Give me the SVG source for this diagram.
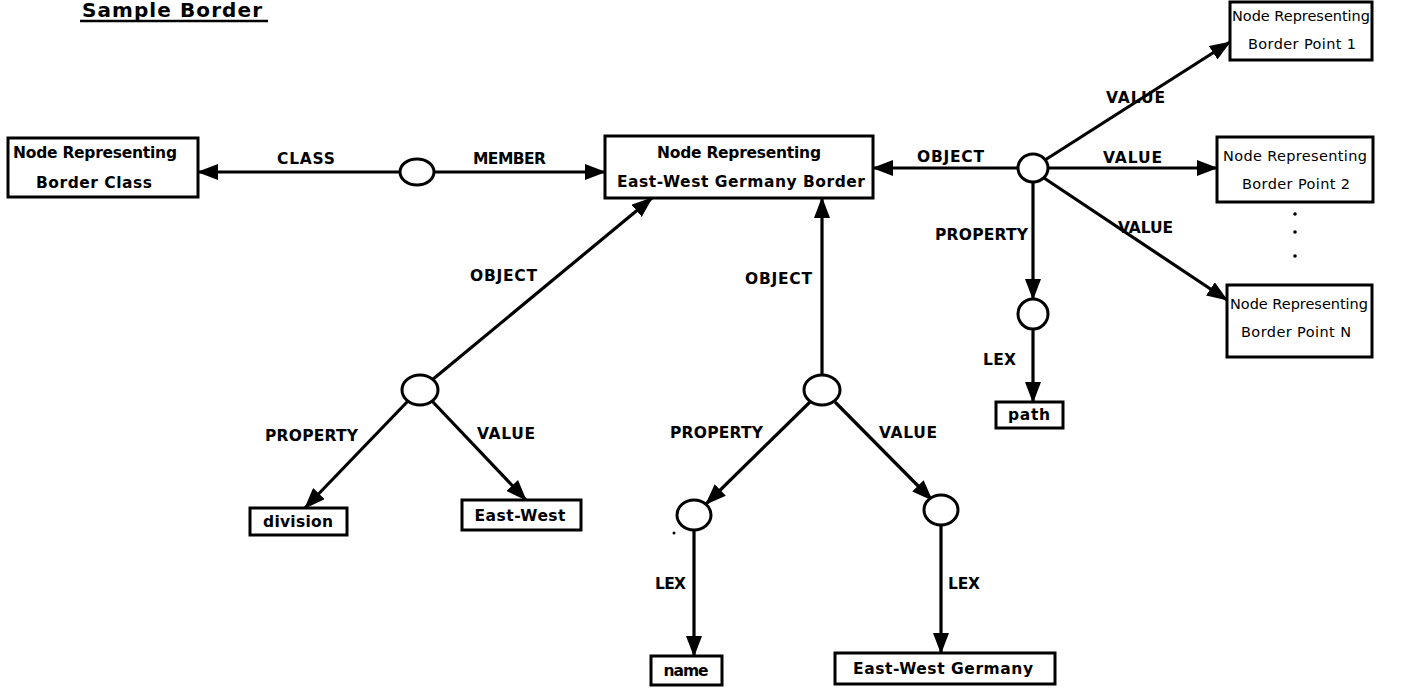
<svg xmlns="http://www.w3.org/2000/svg" width="1419" height="690" viewBox="0 0 1419 690">
<defs>
<marker id="ah" markerUnits="userSpaceOnUse" markerWidth="21" markerHeight="16" refX="20" refY="8" orient="auto">
<path d="M0,0 L21,8 L0,16 Z" fill="#000"/>
</marker>
<style>
.box{fill:#fff;stroke:#000;stroke-width:3}
.nd{fill:#fff;stroke:#000;stroke-width:3}
.e{stroke:#000;stroke-width:3.2;fill:none;marker-end:url(#ah)}
.t{font-family:"DejaVu Sans","Liberation Sans",sans-serif;font-weight:bold;font-size:15.5px;fill:#000}
.bt{font-family:"DejaVu Sans","Liberation Sans",sans-serif;font-weight:bold;font-size:15.5px;fill:#000;text-anchor:middle}
.n{font-family:"DejaVu Sans","Liberation Sans",sans-serif;font-size:14.5px;fill:#000;text-anchor:middle}
</style>
</defs>
<rect width="1419" height="690" fill="#fff"/>
<g id="title">
<text x="82" y="17" class="t" style="font-size:20px" textLength="180">Sample Border</text>
<line x1="80" y1="21" x2="268" y2="21" stroke="#000" stroke-width="2.5"/>
</g>
<g id="connectors">
<line class="e" x1="400" y1="172" x2="198" y2="172"/>
<line class="e" x1="434" y1="172" x2="605" y2="172"/>
<line class="e" x1="1018" y1="168" x2="873" y2="168"/>
<line class="e" x1="1045" y1="160" x2="1230" y2="42"/>
<line class="e" x1="1048" y1="168" x2="1217" y2="168"/>
<line class="e" x1="1044" y1="178" x2="1227" y2="300"/>
<line class="e" x1="1033" y1="182" x2="1033" y2="299"/>
<line class="e" x1="1033" y1="328" x2="1033" y2="402"/>
<line class="e" x1="432" y1="380" x2="652" y2="198"/>
<line class="e" x1="408" y1="401" x2="305" y2="508"/>
<line class="e" x1="432" y1="401" x2="526" y2="500"/>
<line class="e" x1="822" y1="375" x2="822" y2="198"/>
<line class="e" x1="810" y1="402" x2="706" y2="504"/>
<line class="e" x1="835" y1="402" x2="932" y2="500"/>
<line class="e" x1="694" y1="530" x2="694" y2="656"/>
<line class="e" x1="941" y1="525" x2="941" y2="653"/>
<text x="277" y="164" class="t" textLength="58">CLASS</text>
<text x="473" y="164" class="t" textLength="73">MEMBER</text>
<text x="917" y="162" class="t" textLength="67">OBJECT</text>
<text x="1106" y="103" class="t" textLength="59">VALUE</text>
<text x="1103" y="163" class="t" textLength="59">VALUE</text>
<text x="1118" y="233" class="t" textLength="55">VALUE</text>
<text x="935" y="240" class="t" textLength="93">PROPERTY</text>
<text x="983" y="365" class="t" textLength="33">LEX</text>
<text x="470" y="281" class="t" textLength="67">OBJECT</text>
<text x="265" y="441" class="t" textLength="93">PROPERTY</text>
<text x="477" y="439" class="t" textLength="58">VALUE</text>
<text x="745" y="284" class="t" textLength="67">OBJECT</text>
<text x="670" y="438" class="t" textLength="93">PROPERTY</text>
<text x="879" y="438" class="t" textLength="58">VALUE</text>
<text x="655" y="589" class="t" textLength="31">LEX</text>
<text x="948" y="589" class="t" textLength="32">LEX</text>
</g>
<g id="border-class">
<rect class="box" x="8" y="138" width="190" height="59"/>
<text x="95" y="158" class="bt" textLength="164">Node Representing</text>
<text x="94" y="188" class="bt" textLength="116">Border Class</text>
</g>
<g id="class-node"><ellipse class="nd" cx="417" cy="172" rx="17" ry="13"/></g>
<g id="ewg-border">
<rect class="box" x="605" y="136" width="268" height="62"/>
<text x="739" y="158" class="bt" textLength="164">Node Representing</text>
<text x="741" y="187" class="bt" textLength="248">East-West Germany Border</text>
</g>
<g id="hub"><ellipse class="nd" cx="1033" cy="168" rx="15" ry="14"/></g>
<g id="bp1">
<rect class="box" x="1230" y="2" width="142" height="58"/>
<text x="1301" y="21" class="n" textLength="138">Node Representing</text>
<text x="1302" y="49" class="n" textLength="108">Border Point  1</text>
</g>
<g id="bp2">
<rect class="box" x="1217" y="137" width="156" height="65"/>
<text x="1295" y="161" class="n" textLength="144">Node Representing</text>
<text x="1296" y="189" class="n" textLength="108">Border Point  2</text>
</g>
<g id="dots">
<circle cx="1295" cy="214" r="1.8"/>
<circle cx="1295" cy="232" r="1.8"/>
<circle cx="1295" cy="256" r="1.8"/>
</g>
<g id="bpn">
<rect class="box" x="1227" y="285" width="145" height="72"/>
<text x="1299" y="309" class="n" textLength="138">Node Representing</text>
<text x="1296" y="337" class="n" textLength="110">Border Point  N</text>
</g>
<g id="path-prop"><ellipse class="nd" cx="1033" cy="314" rx="15" ry="15"/></g>
<g id="path-box">
<rect class="box" x="996" y="402" width="67" height="26"/>
<text x="1029" y="420" class="bt" textLength="42">path</text>
</g>
<g id="div-node"><ellipse class="nd" cx="420" cy="390" rx="18" ry="15"/></g>
<g id="division">
<rect class="box" x="250" y="508" width="97" height="27"/>
<text x="298" y="527" class="bt" textLength="70">division</text>
</g>
<g id="east-west">
<rect class="box" x="462" y="500" width="119" height="30"/>
<text x="520" y="521" class="bt" textLength="91">East-West</text>
</g>
<g id="name-node"><ellipse class="nd" cx="822" cy="390" rx="18" ry="15"/></g>
<g id="name-prop"><ellipse class="nd" cx="694" cy="515" rx="17" ry="15"/><circle cx="674" cy="533" r="1.5"/></g>
<g id="name-val"><ellipse class="nd" cx="941" cy="510" rx="17" ry="15"/></g>
<g id="name">
<rect class="box" x="651" y="656" width="71" height="29"/>
<text x="686" y="676" class="bt" textLength="45">name</text>
</g>
<g id="ewg">
<rect class="box" x="835" y="653" width="220" height="31"/>
<text x="943" y="674" class="bt" textLength="180">East-West Germany</text>
</g>
</svg>
